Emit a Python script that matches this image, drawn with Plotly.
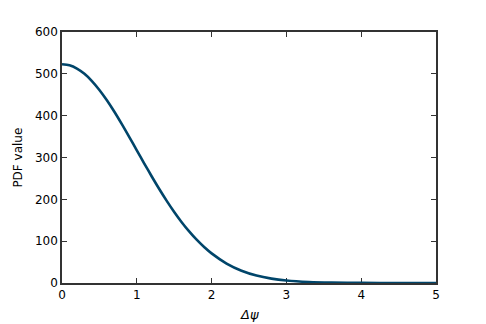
import plotly.graph_objects as go

# Values
delta_psi = [0.0, 0.1, 0.2, 0.3, 0.4, 0.5, 0.6, 0.7, 0.8, 0.9, 1.0, 1.1, 1.2, 1.3, 1.4,
             1.5, 1.6, 1.7, 1.8, 1.9, 2.0, 2.2, 2.4, 2.6, 2.8, 3.0, 3.3, 3.6, 4.0, 4.5, 5.0]
pdf_value = [523.0, 520.4, 512.6, 500.0, 482.8, 461.5, 436.9, 409.4, 379.8, 348.9, 317.2,
             285.6, 254.6, 224.7, 196.3, 169.8, 145.4, 123.3, 103.5, 86.0, 70.8, 46.5,
             29.4, 17.8, 10.4, 5.8, 2.3, 0.8, 0.2, 0.0, 0.0]
x_ticks = [0, 1, 2, 3, 4, 5]
y_ticks = [0, 100, 200, 300, 400, 500, 600]

fig = go.Figure()
fig.add_trace(go.Scatter(
    x=delta_psi, y=pdf_value, mode="lines",
    line=dict(color="#00456a", width=2.6, shape="spline", smoothing=0.8),
    showlegend=False, cliponaxis=False,
))

axis_common = dict(
    showgrid=False, zeroline=False, showline=True, linecolor="#333333", linewidth=1.5,
    mirror="ticks", ticks="inside", ticklen=5, tickwidth=1, tickcolor="#333333",
    tickfont=dict(family="DejaVu Sans", size=12, color="black"),
    layer="below traces", automargin=False,
)

fig.update_layout(
    width=486, height=324,
    margin=dict(l=62, r=50, t=32, b=41),
    paper_bgcolor="white", plot_bgcolor="white",
    xaxis=dict(range=[0, 5], tickvals=x_ticks, **axis_common),
    yaxis=dict(range=[0, 600], tickvals=y_ticks, **axis_common),
    annotations=[
        dict(text="<i>Δψ</i>", xref="paper", yref="paper", x=0.5, y=-0.124,
             xanchor="center", yanchor="middle", showarrow=False,
             font=dict(family="DejaVu Sans", size=13, color="black")),
        dict(text="PDF value", xref="paper", yref="paper", x=-0.12, y=0.5,
             xanchor="center", yanchor="middle", textangle=-90, showarrow=False,
             font=dict(family="DejaVu Sans", size=12, color="black")),
    ],
)

fig.write_html("out.html")
